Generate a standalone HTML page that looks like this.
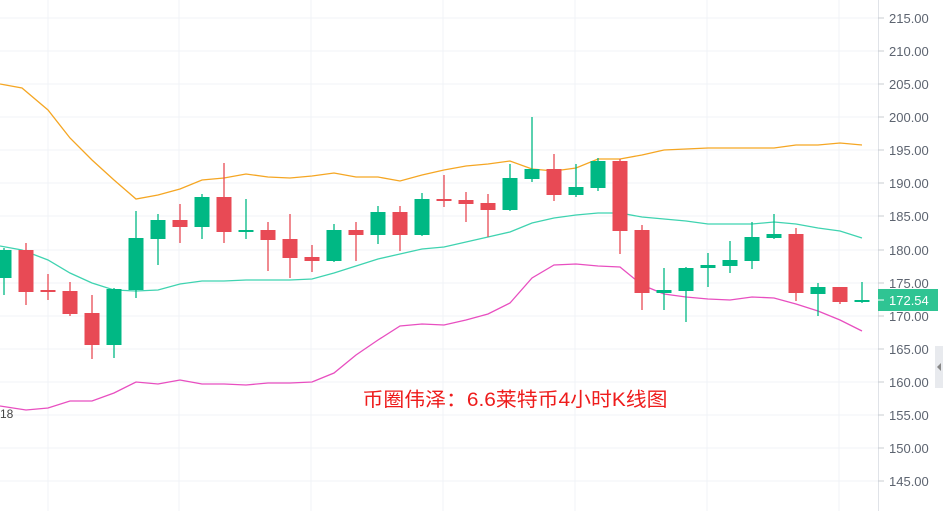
<!DOCTYPE html>
<html><head><meta charset="utf-8"><style>
html,body{margin:0;padding:0;background:#fff;}
svg{display:block;font-family:"Liberation Sans",sans-serif;}
</style></head><body>
<svg width="943" height="511" viewBox="0 0 943 511" xmlns="http://www.w3.org/2000/svg">
<g stroke="#f0f3f7" stroke-width="1">
<line x1="0" y1="18" x2="878" y2="18"/><line x1="0" y1="51" x2="878" y2="51"/><line x1="0" y1="84" x2="878" y2="84"/><line x1="0" y1="117" x2="878" y2="117"/><line x1="0" y1="150" x2="878" y2="150"/><line x1="0" y1="183" x2="878" y2="183"/><line x1="0" y1="216" x2="878" y2="216"/><line x1="0" y1="250" x2="878" y2="250"/><line x1="0" y1="283" x2="878" y2="283"/><line x1="0" y1="316" x2="878" y2="316"/><line x1="0" y1="349" x2="878" y2="349"/><line x1="0" y1="382" x2="878" y2="382"/><line x1="0" y1="415" x2="878" y2="415"/><line x1="0" y1="448" x2="878" y2="448"/><line x1="0" y1="481" x2="878" y2="481"/>
<line x1="48" y1="0" x2="48" y2="511"/><line x1="179" y1="0" x2="179" y2="511"/><line x1="311" y1="0" x2="311" y2="511"/><line x1="443" y1="0" x2="443" y2="511"/><line x1="575" y1="0" x2="575" y2="511"/><line x1="707" y1="0" x2="707" y2="511"/><line x1="839" y1="0" x2="839" y2="511"/>
</g>
<line x1="878.5" y1="0" x2="878.5" y2="511" stroke="#e0e3e8"/>
<g fill="none" stroke-width="1.3">
<polyline stroke="#f5a623" points="0,84 22,88 48,110 70,138 92,160 114,180 136,199 158,195 180,189 202,180 224,178 246,174 268,177 290,178 312,176 334,173 356,177 378,177 400,181 422,175 444,170 466,166 488,164 510,161 532,169 554,171 576,168 598,159 620,159 642,155 664,150 686,149 708,148 730,148 752,148 774,148 796,145 818,145 840,143 862,145"/>
<polyline stroke="#3fd3b0" points="0,246 22,250 48,260 70,273 92,283 114,290 136,291 158,290 180,284 202,281 224,281 246,280 268,280 290,280 312,279 334,273 356,266 378,259 400,254 422,249 444,247 466,242 488,237 510,232 532,223 554,218 576,215 598,213 620,213 642,217 664,219 686,221 708,224 730,224 752,224 774,222 796,224 818,228 840,231 862,238"/>
<polyline stroke="#e84fc0" points="0,406 26,410 48,408 70,401 92,401 114,393 136,382 158,384 180,380 202,384 224,384 246,385 268,383 290,383 312,382 334,373 356,355 378,340 400,326 422,324 444,325 466,320 488,314 510,303 532,278 554,265 576,264 598,266 620,267 642,285 664,294 686,297 708,299 730,300 752,297 774,298 796,304 818,311 840,320 862,331"/>
</g>
<g stroke="#00b884" stroke-width="1.3">
<line x1="4" y1="248" x2="4" y2="295"/><line x1="114" y1="288" x2="114" y2="358"/><line x1="136" y1="211" x2="136" y2="298"/><line x1="158" y1="214" x2="158" y2="265"/><line x1="202" y1="194" x2="202" y2="239"/><line x1="246" y1="199" x2="246" y2="239"/><line x1="334" y1="224" x2="334" y2="262"/><line x1="378" y1="206" x2="378" y2="244"/><line x1="422" y1="193" x2="422" y2="236"/><line x1="510" y1="164" x2="510" y2="211"/><line x1="532" y1="117" x2="532" y2="182"/><line x1="576" y1="164" x2="576" y2="197"/><line x1="598" y1="158" x2="598" y2="191"/><line x1="664" y1="268" x2="664" y2="310"/><line x1="686" y1="267" x2="686" y2="322"/><line x1="708" y1="253" x2="708" y2="287"/><line x1="730" y1="241" x2="730" y2="273"/><line x1="752" y1="222" x2="752" y2="269"/><line x1="774" y1="214" x2="774" y2="239"/><line x1="818" y1="283" x2="818" y2="316"/><line x1="862" y1="282" x2="862" y2="303"/>
</g>
<g fill="#00b884">
<rect x="-3.5" y="250" width="15" height="28"/><rect x="106.5" y="289" width="15" height="56"/><rect x="128.5" y="238" width="15" height="52"/><rect x="150.5" y="220" width="15" height="19"/><rect x="194.5" y="197" width="15" height="30"/><rect x="238.5" y="230" width="15" height="2"/><rect x="326.5" y="230" width="15" height="31"/><rect x="370.5" y="212" width="15" height="23"/><rect x="414.5" y="199" width="15" height="36"/><rect x="502.5" y="178" width="15" height="32"/><rect x="524.5" y="169" width="15" height="10"/><rect x="568.5" y="187" width="15" height="8"/><rect x="590.5" y="161" width="15" height="27"/><rect x="656.5" y="290" width="15" height="3"/><rect x="678.5" y="268" width="15" height="23"/><rect x="700.5" y="265" width="15" height="3"/><rect x="722.5" y="260" width="15" height="6"/><rect x="744.5" y="237" width="15" height="24"/><rect x="766.5" y="234" width="15" height="4"/><rect x="810.5" y="287" width="15" height="7"/><rect x="854.5" y="300" width="15" height="2"/>
</g>
<g stroke="#e84a55" stroke-width="1.3">
<line x1="26" y1="243" x2="26" y2="305"/><line x1="48" y1="274" x2="48" y2="300"/><line x1="70" y1="282" x2="70" y2="316"/><line x1="92" y1="295" x2="92" y2="359"/><line x1="180" y1="204" x2="180" y2="243"/><line x1="224" y1="163" x2="224" y2="243"/><line x1="268" y1="222" x2="268" y2="271"/><line x1="290" y1="214" x2="290" y2="278"/><line x1="312" y1="245" x2="312" y2="272"/><line x1="356" y1="222" x2="356" y2="261"/><line x1="400" y1="206" x2="400" y2="251"/><line x1="444" y1="175" x2="444" y2="207"/><line x1="466" y1="192" x2="466" y2="222"/><line x1="488" y1="194" x2="488" y2="237"/><line x1="554" y1="154" x2="554" y2="201"/><line x1="620" y1="159" x2="620" y2="254"/><line x1="642" y1="225" x2="642" y2="310"/><line x1="796" y1="228" x2="796" y2="301"/><line x1="840" y1="287" x2="840" y2="304"/>
</g>
<g fill="#e84a55">
<rect x="18.5" y="250" width="15" height="42"/><rect x="40.5" y="290" width="15" height="2"/><rect x="62.5" y="291" width="15" height="23"/><rect x="84.5" y="313" width="15" height="32"/><rect x="172.5" y="220" width="15" height="7"/><rect x="216.5" y="197" width="15" height="35"/><rect x="260.5" y="230" width="15" height="10"/><rect x="282.5" y="239" width="15" height="19"/><rect x="304.5" y="257" width="15" height="4"/><rect x="348.5" y="230" width="15" height="5"/><rect x="392.5" y="212" width="15" height="23"/><rect x="436.5" y="199" width="15" height="2"/><rect x="458.5" y="200" width="15" height="4"/><rect x="480.5" y="203" width="15" height="7"/><rect x="546.5" y="169" width="15" height="26"/><rect x="612.5" y="161" width="15" height="70"/><rect x="634.5" y="230" width="15" height="63"/><rect x="788.5" y="234" width="15" height="59"/><rect x="832.5" y="287" width="15" height="15"/>
</g>
<g fill="#5d6470" font-size="13">
<text x="889" y="23">215.00</text><text x="889" y="56">210.00</text><text x="889" y="89">205.00</text><text x="889" y="122">200.00</text><text x="889" y="155">195.00</text><text x="889" y="188">190.00</text><text x="889" y="221">185.00</text><text x="889" y="255">180.00</text><text x="889" y="288">175.00</text><text x="889" y="321">170.00</text><text x="889" y="354">165.00</text><text x="889" y="387">160.00</text><text x="889" y="420">155.00</text><text x="889" y="453">150.00</text><text x="889" y="486">145.00</text>
</g>
<g stroke="#c8ccd2"><line x1="878" y1="18" x2="884" y2="18"/><line x1="878" y1="51" x2="884" y2="51"/><line x1="878" y1="84" x2="884" y2="84"/><line x1="878" y1="117" x2="884" y2="117"/><line x1="878" y1="150" x2="884" y2="150"/><line x1="878" y1="183" x2="884" y2="183"/><line x1="878" y1="216" x2="884" y2="216"/><line x1="878" y1="250" x2="884" y2="250"/><line x1="878" y1="283" x2="884" y2="283"/><line x1="878" y1="316" x2="884" y2="316"/><line x1="878" y1="349" x2="884" y2="349"/><line x1="878" y1="382" x2="884" y2="382"/><line x1="878" y1="415" x2="884" y2="415"/><line x1="878" y1="448" x2="884" y2="448"/><line x1="878" y1="481" x2="884" y2="481"/></g>
<rect x="878" y="289" width="60" height="22" fill="#2fc493"/>
<line x1="878" y1="300" x2="884" y2="300" stroke="#fff"/>
<text x="889" y="305" fill="#fff" font-size="13">172.54</text>
<rect x="935" y="346" width="8" height="42" fill="#e8eaee"/>
<polygon points="937,367 941,363 941,371" fill="#888"/>
<text x="0" y="418" fill="#444" font-size="12">18</text>
<text x="515" y="406" fill="#ee1c1c" font-size="19.5" text-anchor="middle" font-family="Liberation Sans, Noto Sans CJK SC, sans-serif" textLength="305" lengthAdjust="spacingAndGlyphs">币圈伟泽：6.6莱特币4小时K线图</text>
</svg>
</body></html>
